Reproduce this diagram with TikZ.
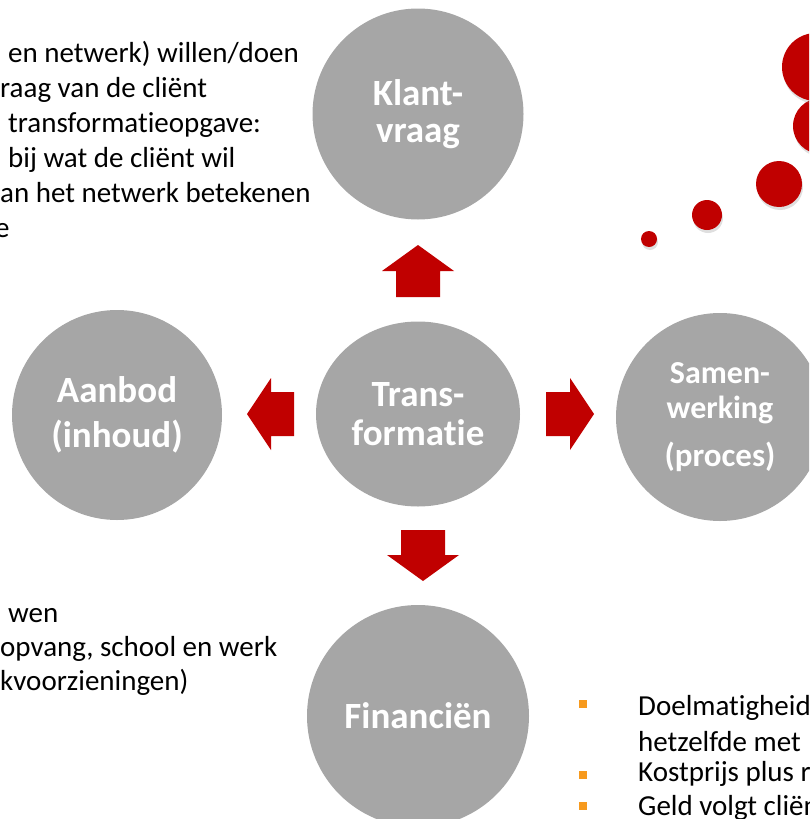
\documentclass[tikz,border=0pt]{standalone}
\usepackage{fontspec}
\setmainfont{Carlito}[Ligatures=NoCommon]
\usetikzlibrary{shapes.geometric,shadows}
\definecolor{cirkelgrijs}{HTML}{A6A6A6}
\definecolor{pijlrood}{HTML}{C00000}
\definecolor{bolletje}{HTML}{F79A1E}

\begin{document}
\begin{tikzpicture}[x=1pt,y=-1pt,
    cirkel/.style={circle,fill=cirkelgrijs,text=white,inner sep=0pt,align=center,
      font=\fontsize{37}{37}\selectfont\bfseries},
    tekst/.style={anchor=base west,inner sep=0pt,font=\fontsize{29}{35}\selectfont},
    stip/.style={fill=pijlrood,drop shadow={opacity=0.25,shadow xshift=1pt,shadow yshift=-3pt}}]
                \useasboundingbox (0,0) rectangle (809,819);
                \clip (0,0) rectangle (809,819);
                % cirkels
                \node[cirkel,minimum size=211pt] (klant) at (418,114) {Klant-\\vraag};
                \node[cirkel,minimum size=210pt,font=\fontsize{37}{45}\selectfont\bfseries] (aanbod) at (117,415) {Aanbod\\(inhoud)};
                \node[cirkel,ellipse,minimum width=204pt,minimum height=185pt,font=\fontsize{37}{39}\selectfont\bfseries] (trans) at (418,414) {Trans-\\formatie};
                \node[cirkel,minimum size=208pt,font=\fontsize{32}{35}\selectfont\bfseries] (samen) at (720,417) {Samen-\\werking\\[13pt]{\fontsize{33}{34}\selectfont(proces)}};
                \node[cirkel,minimum size=222pt] (financien) at (418,716) {Financiën};
                % pijlen
                \fill[pijlrood] (396,297)--(396,271)--(382,271)--(418,245)--(454,271)--(440,271)--(440,297)--cycle;
                \fill[pijlrood] (294,392)--(271,392)--(271,378)--(247,414)--(271,450)--(271,436)--(294,436)--cycle;
                \fill[pijlrood] (546,392)--(570,392)--(570,378)--(594,414)--(570,450)--(570,436)--(546,436)--cycle;
                \fill[pijlrood] (401,530)--(445,530)--(445,555)--(459,555)--(423,581)--(387,555)--(401,555)--cycle;
                % stippen
                \fill[stip] (649,239) circle (8);
                \fill[stip] (707,215) circle (15);
                \fill[stip] (779,184) circle (23);
                \fill[stip] (821,126) circle (28);
                \fill[stip] (816,67) circle (34);
                % teksten
                \foreach \regel [count=\i from 0] in {{\hspace*{8pt}en netwerk) willen/doen},{raag van de cliënt},
                    {\hspace*{8pt}transformatieopgave:},{\hspace*{8pt}bij wat de cliënt wil},{an het netwerk betekenen},{\hspace*{-5pt}e}}
                  \node[tekst] (klant\i) at (0,62+35*\i) {\regel};
                \foreach \regel [count=\i from 0] in {{\hspace*{8pt}wen},{opvang, school en werk},{kvoorzieningen)}}
                  \node[tekst] (aanbod\i) at (0,622+34*\i) {\regel};
                \node[tekst] (fin0) at (638,715) {Doelmatigheid};
                \node[tekst] (fin1) at (638,751) {hetzelfde met};
                \node[tekst] (fin2) at (638,781) {Kostprijs plus r};
                \node[tekst] (fin3) at (638,815) {Geld volgt cliën};
                \fill[bolletje] (579,700) rectangle (587,708);
                \fill[bolletje] (579,771) rectangle (587,779);
                \fill[bolletje] (579,802) rectangle (587,810);
            \end{tikzpicture}
\end{document}
